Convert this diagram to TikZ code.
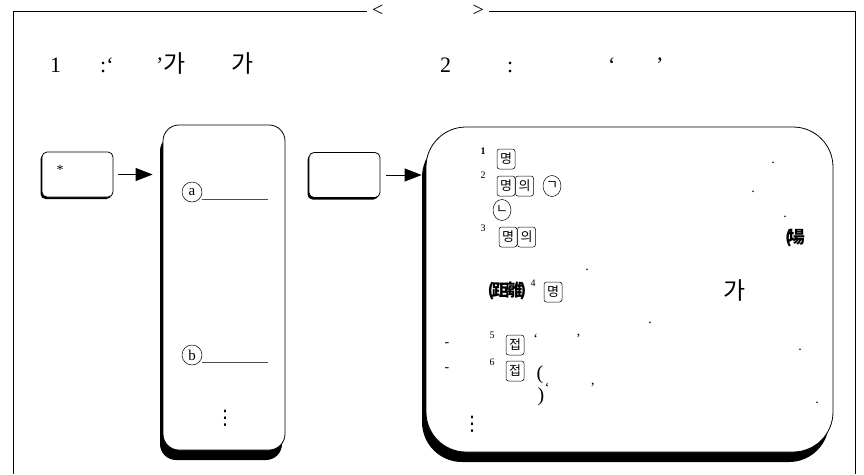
\documentclass[tikz,border=0pt]{standalone}
\usepackage{fontspec}
\setmainfont{Liberation Serif}
\newfontfamily\kr{Noto Sans CJK KR}
\newfontfamily\sym{DejaVu Sans}
\usetikzlibrary{positioning, arrows.meta, shadows, shapes.geometric}
\tikzset{
	node distance = 0pt,
	x = 1pt, y = -1pt,
	line width = .8pt,
	frame/.style={
		line width=.8pt
	},
	panel/.style={
		draw,
		fill=white,
		line width=.8pt,
		inner sep=0pt
	},
	small panel/.style={
		panel,
		rounded corners=5pt,
		minimum width=71pt,
		minimum height=45pt,
		drop shadow={fill=black, opacity=1, shadow xshift=-1.5pt, shadow yshift=-2pt}
	},
	tall panel/.style={
		panel,
		rounded corners=16pt,
		minimum width=122pt,
		minimum height=325pt,
		drop shadow={fill=black, opacity=1, shadow xshift=-3pt, shadow yshift=-10pt}
	},
	big panel/.style={
		panel,
		rounded corners=40pt,
		minimum width=407pt,
		minimum height=325pt,
		drop shadow={fill=black, opacity=1, shadow xshift=-4pt, shadow yshift=-10pt}
	},
	edge/.style={
		-{Triangle[length=17pt, width=13pt]},
		line width=.8pt
	},
	row/.style={
		anchor=base west,
		inner sep=0pt,
		font=\fontsize{22}{26}\selectfont
	},
	krow/.style={
		row,
		font=\kr\fontsize{24}{26}\selectfont
	},
	letter/.style={
		draw,
		circle,
		line width=.5pt,
		inner sep=0pt,
		minimum size=20pt,
		font=\fontsize{15}{15}\selectfont
	},
	uline/.style={
		draw=black!70,
		double,
		double distance=.5pt,
		line width=.5pt
	},
	dots/.style={
		inner sep=0pt,
		font=\sym\fontsize{20}{20}\selectfont
	},
	sup/.style={
		inner sep=0pt,
		font=\fontsize{10}{10}\selectfont
	},
	kbox/.style={
		draw,
		rounded corners=2.5pt,
		line width=.5pt,
		inner sep=0pt,
		minimum width=18pt,
		minimum height=20pt,
		font=\kr\fontsize{13}{13}\selectfont
	},
	kcirc/.style={
		draw,
		ellipse,
		line width=.5pt,
		inner sep=0pt,
		minimum width=18pt,
		minimum height=21pt,
		font=\kr\fontsize{13}{13}\selectfont
	},
	stop/.style={
		inner sep=0pt,
		font=\fontsize{14}{14}\selectfont
	},
	hanja/.style={
		inner sep=0pt,
		font=\kr\bfseries\fontsize{17}{17}\selectfont
	},
	paren/.style={
		inner sep=0pt,
		font=\fontsize{20}{20}\selectfont
	}
}

\begin{document}
\begin{tikzpicture}
\useasboundingbox (0,0) rectangle (864,474);

% frame and title
\node[font=\fontsize{20}{20}\selectfont, inner sep=5pt] (title) at (428,11) {<\hspace{89pt}>};
\draw[frame] (title.west) -- (13,11) -- (13,474);
\draw[frame] (title.east) -- (855,11) -- (855,474);

% heading line
\node[row] (h1a) at (50,72) {1};
\node[row] (h1b) at (100,72) {:‘};
\node[row] (h1c) at (156,72) {’{\kr\fontsize{24}{26}\selectfont 가}};
\node[krow] (h1d) at (231,72) {가};
\node[row] (h2a) at (440,72) {2};
\node[row] (h2b) at (507,72) {:};
\node[row] (h2c) at (608,72) {‘};
\node[row] (h2d) at (656,72) {’};

% panels
\node[small panel] (key) at (77.5,174.5) {};
\node[font=\fontsize{14}{14}\selectfont, inner sep=0pt] (star) at (60,170) {*};
\node[tall panel] (list) at (224,287.5) {};
\node[small panel] (key2) at (344.5,175) {};
\node[big panel] (note) at (629.5,289.5) {};

\draw[edge, shorten <=5pt, shorten >=10pt] (key) -- (key -| list.west);
\draw[edge, shorten <=6pt, shorten >=4pt] (key2) -- (key2 -| note.west);

% list items
\node[letter] (ca) at (192,192) {a};
\draw[uline] ([yshift=-8pt]ca.east) -- ++(66,0);
\node[letter] (cb) at (192,355) {b};
\draw[uline] ([yshift=-8pt]cb.east) -- ++(66,0);
\node[dots] (ldots) at (225,418) {⋮};

% note text
\node[sup] (n1) at (483,151) {\bfseries 1};
\node[kbox] (m1) at (506,159) {명};
\node[stop] (p1) at (773,163) {.};
\node[sup] (n2) at (483,175) {2};
\node[kbox] (m2) at (506,186) {명};
\node[kbox, right=0pt of m2] (u2) {의};
\node[kcirc] (g2) at (552,186) {ㄱ};
\node[stop] (p2) at (753,192) {.};
\node[kcirc] (g3) at (502,210) {ㄴ};
\node[stop] (p3) at (785,217) {.};
\node[sup] (n3) at (483,228) {3};
\node[kbox] (m3) at (508,237) {명};
\node[kbox, right=0pt of m3] (u3) {의};
\node[hanja] (place) at (795,238) {(\kern-4pt 場};
\node[stop] (p4) at (587,270) {.};
\node[hanja] (dist) at (507,291) {(\kern-3pt 距\kern-3pt 離\kern-3pt)};
\node[sup] (n4) at (533,283) {4};
\node[kbox] (m4) at (553,292) {명};
\node[krow, anchor=center] (ga) at (735,290) {가};
\node[stop] (p5) at (650,323) {.};
\node[stop] (d5) at (447,345) {-};
\node[sup] (n5) at (492,335) {5};
\node[kbox] (j5) at (515,345) {접};
\node[stop] (q5) at (557,339) {‘\hspace{38pt}’};
\node[stop] (p6) at (800,350) {.};
\node[stop] (d6) at (447,370) {-};
\node[sup] (n6) at (492,362) {6};
\node[kbox] (j6) at (515,371) {접};
\node[paren] (o6) at (540,375) {(};
\node[paren] (c6) at (541,397) {)};
\node[stop] (q6) at (570,388) {‘\hspace{41pt}’};
\node[stop] (p7) at (817,403) {.};
\node[dots] (ndots) at (472,424) {⋮};
\end{tikzpicture}
\end{document}
